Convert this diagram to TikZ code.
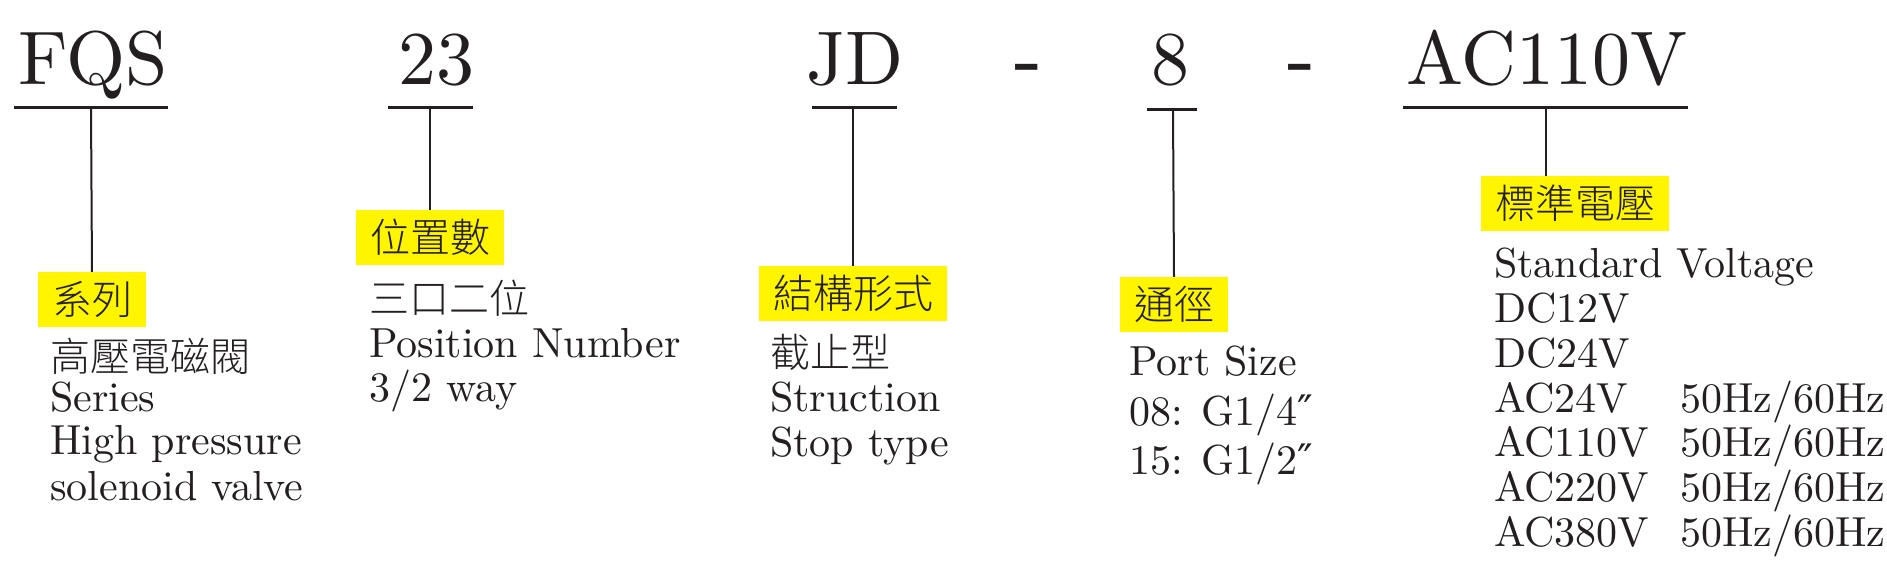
\documentclass[tikz,border=0pt]{standalone}
\usepackage{fontspec}
\setmainfont{lmroman10-regular.otf}
\IfFontExistsTF{Noto Sans CJK TC Light}
  {\newfontfamily\cjkfont{Noto Sans CJK TC Light}}
  {\newfontfamily\cjkfont{Noto Sans CJK TC}}
\newfontfamily\dashfont{Liberation Sans}[FakeStretch=1.2]
\newfontfamily\primefont{DejaVu Serif}
\usetikzlibrary{positioning}
\definecolor{ink}{HTML}{231F20}
\definecolor{hilite}{HTML}{FFF500}

\begin{document}
\begin{tikzpicture}[x=1pt,y=1pt,
  code/.style={font=\fontsize{76}{80}\selectfont,text=ink,inner sep=0pt,anchor=base},
  dashsign/.style={font=\dashfont\fontsize{76}{80}\selectfont,text=ink,inner sep=0pt,anchor=base},
  head/.style={font=\cjkfont\fontsize{40}{44}\selectfont,text=ink,fill=hilite,inner xsep=14pt,inner ysep=0pt,minimum height=55pt,anchor=north},
  cjkline/.style={font=\cjkfont\fontsize{40}{44}\selectfont,text=ink,inner sep=0pt,anchor=base west},
  txt/.style={font=\fontsize{42}{45}\selectfont,text=ink,inner sep=0pt,anchor=base west},
  uline/.style={ink,line width=3pt},
  stem/.style={ink,line width=2pt}]
  \useasboundingbox (0,0) rectangle (1887,564);

  % Order code
  \node[code] (fqs) at (93,479) {FQS};
  \node[code] (ways) at (436,479) {23};
  \node[code] (kind) at (855,479) {JD};
  \node[dashsign] (d1) at (1027,476) {-};
  \node[code] (port) at (1170,479) {8};
  \node[dashsign] (d2) at (1300,476) {-};
  \node[code] (volt) at (1547,479) {AC110V};

  % Underlines
  \draw[uline] (14,456) -- (168,456);
  \draw[uline] (388,456) -- (473,456);
  \draw[uline] (812,456) -- (897,456);
  \draw[uline] (1147,454) -- (1197,454);
  \draw[uline] (1403,456) -- (1688,456);
  \coordinate (tfqs) at (91,456);
  \coordinate (tways) at (430,456);
  \coordinate (tkind) at (853,456);
  \coordinate (tport) at (1173,454);
  \coordinate (tvolt) at (1546,456);

  % Highlighted headings
  \node[head] (hser) at (92,292) {系列};
  \node[head] (hpos) at (430,354) {位置數};
  \node[head] (hkind) at (853,298) {結構形式};
  \node[head] (hport) at (1174,287) {通徑};
  \node[head] (hvolt) at (1575,388) {標準電壓};

  \draw[stem] (tfqs) -- (hser.north);
  \draw[stem] (tways) -- (hpos.north);
  \draw[stem] (tkind) -- (hkind.north);
  \draw[stem] (tport) -- (hport.north);
  \draw[stem] (tvolt) -- (tvolt |- hvolt.north);

  % Series
  \node[cjkline] (ser1) at (50,192) {高壓電磁閥};
  \node[txt] (ser2) at (50,152) {Series};
  \node[txt] (ser3) at (50,109) {High pressure};
  \node[txt] (ser4) at (50,63) {solenoid valve};

  % Position number
  \node[cjkline] (pos1) at (369,250) {三口二位};
  \node[txt] (pos2) at (369,206) {Position Number};
  \node[txt] (pos3) at (369,162) {3/2 way};

  % Structure
  \node[cjkline] (kind1) at (770,196) {截止型};
  \node[txt] (kind2) at (770,152) {Struction};
  \node[txt] (kind3) at (770,107) {Stop type};

  % Port size
  \node[txt] (port1) at (1129,188) {Port Size};
  \node[txt] (port2) at (1129,138) {08: G1/4{\primefont ″}};
  \node[txt] (port3) at (1129,89) {15: G1/2{\primefont ″}};

  % Voltage
  \node[txt] (volt0) at (1494,286) {Standard Voltage};
  \foreach \v [count=\i] in {DC12V,DC24V,AC24V,AC110V,AC220V,AC380V}
    \node[txt] (volt\i) at (1494,{286-44.67*\i}) {\v};
  \foreach \i in {3,...,6}
    \node[txt] (hz\i) at (1680,{286-44.67*\i}) {50Hz/60Hz};
\end{tikzpicture}
\end{document}
